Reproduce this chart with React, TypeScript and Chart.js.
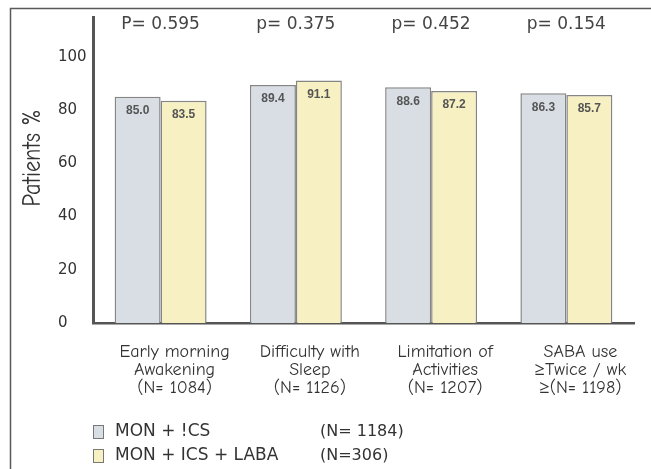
import React, { useEffect, useRef } from "react";
import { Chart, registerables } from "chart.js";

Chart.register(...registerables);

const categories: string[][] = [
  ["Early morning", "Awakening", "(N= 1084)"],
  ["Difficulty with", "Sleep", "(N= 1126)"],
  ["Limitation of", "Activities", "(N= 1207)"],
  ["SABA use", "\u2265Twice / wk", "\u2265(N= 1198)"],
];
const monIcs = [85.0, 89.4, 88.6, 86.3];
const monIcsLaba = [83.5, 91.1, 87.2, 85.7];
const pValues = ["P= 0.595", "p= 0.375", "p= 0.452", "p= 0.154"];
const seriesNames = ["MON + !CS", "MON + ICS + LABA"];
const seriesN = ["(N= 1184)", "(N=306)"];
const yTicks = [0, 20, 40, 60, 80, 100];
const yTitle = "Patients %";

const COMIC = "'Comic Sans MS', 'Comic Neue', 'Open Sans', sans-serif";
const fills = ["#d8dee4", "#f7f0c2"];
const borderCol = "#858585";

const decor = {
  id: "decor",
  beforeDraw(chart: any) {
    const ctx = chart.ctx;
    ctx.save();
    ctx.fillStyle = "#ffffff";
    ctx.fillRect(0, 0, chart.width, chart.height);
    ctx.strokeStyle = "#5a5a5a";
    ctx.lineWidth = 1.5;
    ctx.beginPath();
    ctx.moveTo(10.5, chart.height);
    ctx.lineTo(10.5, 8.5);
    ctx.lineTo(chart.width, 8.5);
    ctx.stroke();
    ctx.restore();
  },
  afterDraw(chart: any) {
    const ctx = chart.ctx;
    const xs = chart.scales.x;
    ctx.save();
    // y title
    ctx.save();
    ctx.translate(33, 158);
    ctx.rotate(-Math.PI / 2);
    ctx.fillStyle = "#333";
    ctx.font = `26px ${COMIC}`;
    ctx.textAlign = "center";
    ctx.textBaseline = "middle";
    ctx.fillText(yTitle, 0, 0, 97);
    ctx.restore();

    // p-values
    ctx.fillStyle = "#444";
    ctx.font = "17px 'DejaVu Sans', sans-serif";
    ctx.textAlign = "center";
    ctx.textBaseline = "middle";
    pValues.forEach((p, i) => {
      ctx.fillText(p, xs.getPixelForValue(i), 25);
    });

    // bar value labels
    ctx.fillStyle = "#555";
    ctx.font = "bold 12px 'Liberation Sans', Arial, sans-serif";
    chart.data.datasets.forEach((ds: any, di: number) => {
      const meta = chart.getDatasetMeta(di);
      meta.data.forEach((bar: any, i: number) => {
        ctx.fillText(ds.data[i].toFixed(1), bar.x, bar.y + 14);
      });
    });

    // legend
    ctx.textAlign = "left";
    seriesNames.forEach((name, k) => {
      const cy = 432 + k * 24;
      ctx.fillStyle = fills[k];
      ctx.fillRect(93, cy - 7, 10, 13);
      ctx.strokeStyle = "#777";
      ctx.lineWidth = 1;
      ctx.strokeRect(93.5, cy - 6.5, 10, 13);
      ctx.fillStyle = "#333";
      ctx.font = "17px 'DejaVu Sans', sans-serif";
      ctx.fillText(name, 115, cy);
      ctx.font = "16px 'DejaVu Sans', sans-serif";
      ctx.fillText(seriesN[k], 320, cy);
    });
    ctx.restore();
  },
};

export default function App() {
  const ref = useRef<HTMLCanvasElement | null>(null);
  useEffect(() => {
    if (!ref.current) return;
    const chart = new Chart(ref.current, {
      type: "bar",
      data: {
        labels: categories as any,
        datasets: [
          {
            label: seriesNames[0],
            data: monIcs,
            backgroundColor: fills[0],
            borderColor: borderCol,
            borderWidth: 1.5,
            categoryPercentage: 0.68,
            barPercentage: 1.0,
          },
          {
            label: seriesNames[1],
            data: monIcsLaba,
            backgroundColor: fills[1],
            borderColor: borderCol,
            borderWidth: 1.5,
            categoryPercentage: 0.68,
            barPercentage: 1.0,
          },
        ],
      },
      options: {
        responsive: false,
        animation: false,
        devicePixelRatio: 1,
        layout: { padding: { left: 58, top: 17, right: 17, bottom: 0 } },
        plugins: {
          legend: { display: false },
          tooltip: { enabled: false },
          title: { display: false },
        },
        scales: {
          x: {
            grid: { display: false, drawTicks: false },
            border: { display: true, color: "#555", width: 2.5 },
            ticks: {
              color: "#333",
              font: { family: COMIC, size: 18, lineHeight: "18px" },
              padding: 20,
              labelOffset: 14,
              maxRotation: 0,
              autoSkip: false,
            },
            afterFit: (s: any) => {
              s.height = 469 - 323;
            },
          },
          y: {
            min: 0,
            max: 115,
            grid: { display: false, drawTicks: false },
            border: { display: true, color: "#555", width: 3 },
            afterBuildTicks: (s: any) => {
              s.ticks = yTicks.map((v) => ({ value: v }));
            },
            ticks: {
              color: "#333",
              font: { family: "'DejaVu Sans', sans-serif", size: 15 },
              crossAlign: "far",
              padding: 5,
            },
            afterFit: (s: any) => {
              s.width = 35;
            },
          },
        },
      },
      plugins: [decor],
    });
    return () => chart.destroy();
  }, []);
  return (
    <div style={{ position: "absolute", left: 0, top: 0, width: 651, height: 469 }}>
      <canvas ref={ref} width={651} height={469} />
    </div>
  );
}
